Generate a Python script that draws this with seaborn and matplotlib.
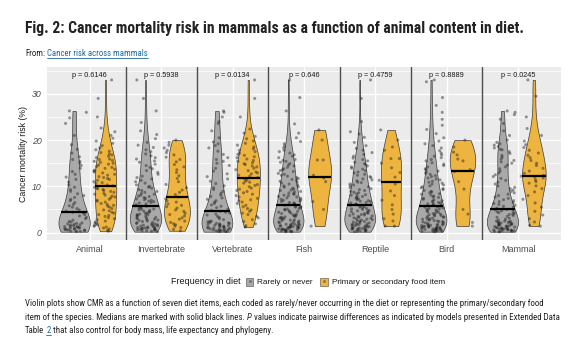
import numpy as np
import pandas as pd
import matplotlib
matplotlib.use("Agg")
import matplotlib.pyplot as plt
import seaborn as sns
from matplotlib import font_manager
from matplotlib.patches import Patch
from matplotlib.lines import Line2D
from matplotlib.collections import PolyCollection
from matplotlib.ticker import MultipleLocator
from matplotlib.transforms import IdentityTransform

# ---------------- data ----------------
items = ["Animal", "Invertebrate", "Vertebrate", "Fish", "Reptile", "Bird", "Mammal"]
freq_levels = ["Rarely or never", "Primary or secondary food item"]
p_labels = ["p = 0.6146", "p = 0.5938", "p = 0.0134", "p = 0.646",
            "p = 0.4759", "p = 0.8889", "p = 0.0245"]
y_ticks = [0, 10, 20, 30]

animal_rare = [0.2, 0.3, 0.3, 0.4, 0.5, 0.5, 0.6, 0.6, 0.7, 0.8, 0.8, 0.9, 1.0, 1.0, 1.1, 1.2, 1.3,
               1.3, 1.4, 1.5, 1.6, 1.7, 1.8, 1.9, 2.0, 2.1, 2.3, 2.4, 2.7, 3.0, 3.3, 3.6, 3.9, 4.2,
               4.4, 4.6, 4.9, 5.2, 5.5, 5.8, 6.1, 6.5, 6.9, 7.2, 7.6, 8.0, 8.4, 8.9, 9.3, 9.8, 10.3,
               10.9, 11.5, 12.0, 12.6, 13.2, 13.9, 14.5, 15.0, 15.4, 15.8, 16.4, 17.2, 18.0, 19.0,
               21.0, 23.6, 24.8, 26.0, 26.3]
animal_primary = [0.3, 0.5, 0.8, 1.0, 1.2, 1.4, 1.5, 1.7, 1.9, 2.1, 2.3, 2.5, 2.8, 3.0, 3.2, 3.5, 3.7, 3.9,
                  4.2, 4.4, 4.7, 4.9, 5.2, 5.5, 5.7, 5.9, 6.1, 6.3, 6.6, 6.8, 7.0, 7.2, 7.5, 7.7, 7.9,
                  8.1, 8.3, 8.5, 8.7, 8.9, 9.1, 9.3, 9.5, 9.6, 9.8, 10.1, 10.3, 10.6, 10.8, 11.0, 11.3,
                  11.5, 11.7, 11.9, 12.1, 12.4, 12.6, 12.9, 13.1, 13.3, 13.5, 13.7, 13.9, 14.1, 14.3,
                  14.6, 14.8, 15.0, 15.2, 15.4, 15.6, 15.8, 15.9, 16.2, 16.5, 16.8, 17.0, 17.3, 17.6,
                  17.9, 18.3, 18.8, 19.3, 19.8, 20.4, 21.0, 21.8, 22.6, 25.0, 29.0, 33.0]
invertebrate_rare = [0.2, 0.3, 0.4, 0.4, 0.5, 0.6, 0.6, 0.7, 0.8, 0.8, 0.9, 0.9, 1.0, 1.0,
                     1.1, 1.2, 1.2, 1.3, 1.4, 1.5, 1.6, 1.6, 1.7, 1.8, 1.9, 2.0,
                     2.1, 2.2, 2.4, 2.5, 2.6, 2.7, 2.8, 2.9, 3.0, 3.1, 3.2, 3.3, 3.5, 3.6, 3.7, 3.8, 3.9, 4.0,
                     4.1, 4.2, 4.4, 4.5, 4.6, 4.8, 4.9, 5.0, 5.1, 5.3, 5.4, 5.6, 5.7, 5.8, 6.0,
                     6.2, 6.4, 6.5, 6.7, 6.8, 7.0, 7.1, 7.3, 7.4, 7.6, 7.8, 7.9, 8.1, 8.3, 8.5, 8.7, 8.9,
                     9.1, 9.3, 9.6, 9.8, 10.0, 10.3, 10.7, 11.0, 11.3, 11.6, 11.9, 12.2, 12.6, 13.0, 13.4,
                     13.8, 14.1, 14.5, 14.8, 15.2, 15.5, 15.9, 16.2, 16.6, 17.0, 17.5, 17.9, 18.4, 18.9,
                     19.5, 20.3, 21.2, 22.0, 23.8, 26.3, 29.0, 33.0]
invertebrate_primary = [0.4, 0.7, 1.1, 1.4, 1.7, 1.9, 2.2, 2.5, 2.9, 3.2, 3.6, 3.9, 4.2, 4.6, 4.9, 5.3,
                        5.6, 5.9, 6.2, 6.6, 6.9, 7.3, 7.7, 8.2, 8.7, 9.2, 9.7, 10.4, 11.0, 11.7, 12.3,
                        13.0, 13.6, 14.2, 14.7, 15.3, 15.8, 16.3, 16.8, 17.3, 17.8, 18.3, 18.9, 19.5, 20.0]
vertebrate_rare = [0.2, 0.2, 0.3, 0.3, 0.4, 0.4, 0.5, 0.5, 0.6, 0.7, 0.7, 0.8, 0.8, 0.9, 1.0, 1.0,
                   1.1, 1.2, 1.2, 1.3, 1.4, 1.5, 1.5, 1.6, 1.7, 1.8, 1.9, 2.0, 2.0, 2.1, 2.2, 2.3,
                   2.4, 2.5, 2.8, 3.0, 3.3, 3.5, 3.8, 4.0, 4.2, 4.4, 4.6, 4.8, 5.1, 5.4, 5.7, 6.0,
                   6.3, 6.6, 6.9, 7.2, 7.5, 7.8, 8.1, 8.5, 8.9, 9.3, 9.7, 10.1, 10.6, 11.1, 11.6,
                   12.1, 12.7, 13.3, 13.9, 14.5, 15.0, 15.4, 15.8, 16.2, 16.9, 17.6, 18.3, 18.8,
                   19.2, 19.6, 20.5, 22.0, 23.6, 24.0, 25.0, 26.0, 26.3]
vertebrate_primary = [1.2, 1.5, 1.9, 2.4, 2.8, 3.2, 3.5, 3.9, 4.2, 4.6, 4.9, 5.2, 5.6, 5.9, 6.3, 6.6,
                      6.9, 7.1, 7.4, 7.7, 8.0, 8.3, 8.6, 8.9, 9.1, 9.4, 9.6, 9.9, 10.2, 10.4, 10.7, 10.9,
                      11.1, 11.4, 11.6, 11.9, 12.2, 12.4, 12.7, 12.9, 13.1, 13.4, 13.6, 13.9, 14.2, 14.4,
                      14.7, 14.9, 15.1, 15.4, 15.6, 15.9, 16.2, 16.4, 16.7, 16.9, 17.2, 17.5, 17.8, 18.1,
                      18.5, 18.9, 19.3, 19.8, 20.3, 20.8, 21.5, 22.4, 25.0, 29.0, 33.0]
fish_rare = [0.2, 0.2, 0.3, 0.3, 0.4, 0.4, 0.5, 0.5, 0.6, 0.6, 0.7, 0.7, 0.8, 0.8, 0.9, 1.0, 1.0,
             1.1, 1.1, 1.2, 1.2, 1.3, 1.3, 1.4, 1.5, 1.5, 1.6, 1.6, 1.7, 1.8, 1.8, 1.9, 2.0,
             2.1, 2.2, 2.3, 2.4, 2.5, 2.6, 2.7, 2.8, 2.9, 3.0, 3.1, 3.2, 3.3, 3.4, 3.5, 3.6, 3.7, 3.8,
             4.0, 4.1, 4.2, 4.4, 4.5, 4.6, 4.7, 4.9, 5.0, 5.1, 5.2, 5.4, 5.5, 5.6, 5.7, 5.9, 6.0,
             6.1, 6.3, 6.4, 6.5, 6.7, 6.8, 7.0, 7.1, 7.2, 7.4, 7.5, 7.7, 7.8, 8.0, 8.1, 8.3, 8.4,
             8.6, 8.8, 8.9, 9.1, 9.2, 9.4, 9.6, 9.8, 9.9, 10.1, 10.3, 10.5, 10.7, 10.9, 11.1, 11.3,
             11.5, 11.7, 11.9, 12.2, 12.4, 12.6, 12.8, 13.2, 13.4, 13.6, 13.8, 14.1, 14.4, 14.6,
             14.9, 15.2, 15.4, 15.6, 15.8, 16.2, 16.5, 16.8, 17.2, 17.5, 17.8, 18.3, 18.7, 19.2,
             19.7, 20.5, 21.5, 23.5, 26.3, 29.2, 33.0]
fish_primary = [1.4, 5.0, 6.7, 11.0, 11.8, 12.4, 15.7, 15.7, 20.0, 22.2]
reptile_rare = [0.2, 0.3, 0.3, 0.4, 0.5, 0.5, 0.6, 0.7, 0.7, 0.8, 0.9, 0.9, 1.0, 1.0,
                1.1, 1.2, 1.2, 1.3, 1.4, 1.5, 1.5, 1.6, 1.7, 1.8, 1.8, 1.9, 2.0,
                2.1, 2.2, 2.3, 2.4, 2.5, 2.6, 2.7, 2.8, 2.9, 3.0, 3.1, 3.2, 3.3, 3.5, 3.6, 3.7, 3.8,
                3.9, 4.0, 4.1, 4.2, 4.3, 4.5, 4.6, 4.7, 4.8, 5.0, 5.1, 5.2, 5.4, 5.5, 5.6, 5.8, 5.9,
                6.0, 6.1, 6.2, 6.4, 6.5, 6.7, 6.8, 6.9, 7.1, 7.3, 7.4, 7.6, 7.8, 7.9, 8.1, 8.2, 8.4,
                8.6, 8.7, 8.9, 9.1, 9.3, 9.5, 9.7, 9.9, 10.1, 10.3, 10.5, 10.8, 10.9, 11.2, 11.4,
                11.6, 11.9, 12.1, 12.4, 12.6, 12.9, 13.1, 13.4, 13.7, 13.9, 14.2, 14.4, 14.7, 14.9,
                15.2, 15.5, 15.8, 16.1, 16.5, 16.9, 17.3, 17.8, 18.2, 18.8, 19.5, 20.6, 21.3, 21.8,
                24.0, 29.0, 33.0]
reptile_primary = [1.4, 1.4, 2.5, 3.0, 4.0, 5.0, 6.0, 7.0, 8.0, 9.0, 10.5, 11.3, 12.0, 13.0, 14.0,
                   15.0, 16.0, 16.0, 17.8, 18.5, 20.0, 22.2]
bird_rare = [0.2, 0.2, 0.3, 0.3, 0.4, 0.4, 0.5, 0.5, 0.6, 0.6, 0.7, 0.7, 0.8, 0.8, 0.9, 0.9, 1.0, 1.0,
             1.1, 1.1, 1.2, 1.2, 1.3, 1.3, 1.4, 1.5, 1.5, 1.6, 1.6, 1.7, 1.7, 1.8, 1.9, 2.0,
             2.1, 2.2, 2.3, 2.4, 2.4, 2.5, 2.6, 2.7, 2.8, 2.9, 3.0, 3.1, 3.2, 3.3, 3.4, 3.5, 3.6,
             3.7, 3.8, 3.9, 4.0, 4.1, 4.2, 4.4, 4.5, 4.6, 4.7, 4.9, 5.0, 5.1, 5.2, 5.3, 5.5, 5.6,
             5.7, 5.9, 6.0, 6.1, 6.2, 6.4, 6.5, 6.6, 6.8, 6.9, 7.1, 7.2, 7.4, 7.6, 7.7, 7.9, 8.1,
             8.3, 8.4, 8.6, 8.8, 8.9, 9.1, 9.3, 9.5, 9.7, 9.9, 10.1, 10.3, 10.5, 10.7, 10.9, 11.1,
             11.4, 11.6, 11.8, 12.1, 12.3, 12.6, 12.8, 13.1, 13.3, 13.6, 13.8, 14.2, 14.5, 14.8,
             15.1, 15.5, 15.8, 16.2, 16.5, 16.8, 17.2, 17.7, 18.3, 18.8, 19.2, 19.8, 20.5, 21.4,
             22.3, 23.2, 24.5, 26.0, 27.5, 29.2, 32.6, 33.0]
bird_primary = [1.4, 2.2, 4.0, 5.0, 9.4, 11.0, 13.2, 13.6, 15.5, 15.9, 16.8, 17.4, 18.5, 20.0]
mammal_rare = [0.2, 0.2, 0.3, 0.3, 0.4, 0.4, 0.5, 0.5, 0.6, 0.6, 0.7, 0.7, 0.8, 0.8, 0.9, 0.9, 1.0,
               1.0, 1.1, 1.2, 1.2, 1.3, 1.4, 1.4, 1.5, 1.6, 1.6, 1.7, 1.8, 1.9, 1.9, 2.0, 2.1, 2.1,
               2.2, 2.3, 2.3, 2.4, 2.5, 2.5, 2.7, 2.9, 3.1, 3.3, 3.5, 3.7, 3.9, 4.0, 4.2, 4.3, 4.5,
               4.6, 4.7, 4.9, 5.0, 5.1, 5.3, 5.5, 5.7, 5.9, 6.1, 6.3, 6.5, 6.7, 6.9, 7.1, 7.4, 7.7,
               8.0, 8.3, 8.6, 8.9, 9.2, 9.5, 9.8, 10.1, 10.5, 10.9, 11.3, 11.7, 12.1, 12.5, 12.9,
               13.3, 13.8, 14.2, 14.6, 15.0, 15.3, 15.6, 15.9, 16.3, 16.7, 17.1, 17.5, 17.9, 18.0,
               18.3, 18.6, 18.9, 19.2, 19.5, 20.0, 21.0, 22.0, 23.6, 24.5, 25.5, 26.0, 26.3]
mammal_primary = [1.4, 1.6, 2.3, 3.0, 3.8, 4.6, 5.5, 6.4, 7.2, 8.0, 8.8, 9.5, 10.1, 10.7, 11.0, 11.4,
                  11.8, 12.0, 12.2, 12.4, 12.8, 13.3, 13.9, 14.5, 15.0, 15.6, 16.2, 16.7, 17.2, 17.8,
                  18.4, 19.0, 19.8, 21.0, 22.5, 25.0, 29.5, 33.0]

series = {
    "Animal": (animal_rare, animal_primary),
    "Invertebrate": (invertebrate_rare, invertebrate_primary),
    "Vertebrate": (vertebrate_rare, vertebrate_primary),
    "Fish": (fish_rare, fish_primary),
    "Reptile": (reptile_rare, reptile_primary),
    "Bird": (bird_rare, bird_primary),
    "Mammal": (mammal_rare, mammal_primary),
}
rows = []
for it in items:
    for lev, vals in zip(freq_levels, series[it]):
        for v in vals:
            rows.append({"item": it, "freq": lev, "cmr": v})
df = pd.DataFrame(rows)


def nrd0(kde):
    """R's default bandwidth (bw.nrd0), as used by ggplot2's geom_violin."""
    x = np.asarray(kde.dataset).ravel()
    sd = x.std(ddof=1)
    q75, q25 = np.percentile(x, [75, 25])
    lo = min(sd, (q75 - q25) / 1.34)
    if lo <= 0:
        lo = sd if sd > 0 else 1.0
    return 0.9 * lo * x.size ** -0.2 / sd


# ---------------- style ----------------
GRAY = "#A9A9A9"
ORANGE = "#EDB43F"
sns.set_theme(style="darkgrid", rc={
    "axes.facecolor": "#EBEBEB", "grid.color": "white", "figure.facecolor": "white",
})
names = {f.name for f in font_manager.fontManager.ttflist}
NARROW = next((n for n in ["Roboto Condensed", "Liberation Sans Narrow", "Archivo Narrow"]
               if n in names), "Liberation Sans")
SANS = "Liberation Sans"
plt.rcParams["font.family"] = [SANS, "DejaVu Sans"]

W, H = 580, 341
fig = plt.figure(figsize=(W / 100, H / 100), dpi=100)
ax = fig.add_axes([47 / W, 1 - 240 / H, (561 - 47) / W, (240 - 67) / H])

sns.violinplot(data=df, x="item", y="cmr", hue="freq", order=items, hue_order=freq_levels,
               palette=[GRAY, ORANGE], saturation=1, cut=0, density_norm="area",
               common_norm=True, width=0.88, inner=None, linewidth=0.5, linecolor="#3c3c3c",
               bw_method=nrd0, legend=False, ax=ax)

np.random.seed(3)
sns.stripplot(data=df, x="item", y="cmr", hue="freq", order=items, hue_order=freq_levels,
              palette=["#1e1e1e", "#1e1e1e"], dodge=True, jitter=0.32, size=2.2,
              alpha=0.45, linewidth=0, legend=False, ax=ax, zorder=3)

# median lines drawn across the violin body
for coll in list(ax.collections):
    if not isinstance(coll, PolyCollection):
        continue
    for path in coll.get_paths():
        v = path.vertices
        if len(v) < 4:
            continue
        cx = (v[:, 0].min() + v[:, 0].max()) / 2
        ci = int(round(cx))
        hi = 0 if cx < ci else 1
        m = float(np.median(series[items[ci]][hi]))
        xs = []
        for (x0, y0), (x1, y1) in zip(v[:-1], v[1:]):
            if (y0 - m) * (y1 - m) <= 0 and y0 != y1:
                xs.append(x0 + (m - y0) * (x1 - x0) / (y1 - y0))
        if xs:
            ax.plot([min(xs), max(xs)], [m, m], color="black", lw=1.6,
                    solid_capstyle="butt", zorder=5)

for i in range(len(items) - 1):
    ax.axvline(i + 0.5, color="#4d4d4d", lw=1.0, zorder=2)

for i, lab in enumerate(p_labels):
    ax.text(i, 34, lab, ha="center", va="center", fontsize=5.2, color="#1a1a1a", zorder=6)

ax.set_xlim(-0.6, len(items) - 0.4)
ax.set_ylim(-1.6, 35.8)
ax.set_yticks(y_ticks)
ax.yaxis.set_minor_locator(MultipleLocator(5))
ax.grid(which="major", color="white", lw=1.0)
ax.grid(which="minor", axis="y", color="white", lw=0.5)
ax.set_axisbelow(True)
for s in ax.spines.values():
    s.set_visible(False)
ax.tick_params(axis="both", which="major", length=2.2, width=0.6, color="#333333",
               labelcolor="#4D4D4D", pad=1.5)
ax.tick_params(which="minor", length=0)
ax.tick_params(axis="x", labelsize=6.5)
ax.tick_params(axis="y", labelsize=6.3)
for t in ax.get_yticklabels():
    t.set_style("italic")
ax.set_xlabel("")
ax.set_ylabel("Cancer mortality risk (%)", fontsize=6.3, color="#1a1a1a", labelpad=3)

# ---------------- legend ----------------
LEG_Y = 282
fig.text(171 / W, 1 - LEG_Y / H, "Frequency in diet", fontsize=6.5, color="#1a1a1a",
         ha="left", va="center")
h1 = (Patch(facecolor=GRAY, edgecolor="#4a4a4a", lw=0.4),
      Line2D([], [], marker="o", ls="", color="#222222", alpha=0.45, markersize=2, mew=0))
h2 = (Patch(facecolor=ORANGE, edgecolor="#4a4a4a", lw=0.4),
      Line2D([], [], marker="o", ls="", color="#222222", alpha=0.45, markersize=2, mew=0))
fig.legend(handles=[h1, h2], labels=freq_levels, ncol=2, loc="center left",
           bbox_to_anchor=(246 / W, 1 - LEG_Y / H), frameon=False, fontsize=5.9,
           handlelength=0.9, handleheight=1.1, handletextpad=0.5, columnspacing=0.9,
           borderpad=0, borderaxespad=0, labelcolor="#1a1a1a")

# ---------------- page text ----------------
renderer = fig.canvas.get_renderer()
LINK = "#1b6a98"
TXT = "#222222"


def width_of(s, **kw):
    t = fig.text(0, 0, s, **kw)
    w = t.get_window_extent(renderer).width
    t.remove()
    return w


def advance(s, **kw):
    """Horizontal advance of s, trailing spaces included."""
    return width_of(s + "x", **kw) - width_of("x", **kw)


def put_line(pieces, x_px, y_px, size, family, weight="normal", target=None):
    """Pieces carry their separating spaces at their end, never at their start."""
    base = dict(fontsize=size, family=family, weight=weight)
    if target is not None:
        total = width_of("".join(p[0] for p in pieces), **base)
        size = size * target / total
        base["fontsize"] = size
    x = x_px
    for txt, style, color, underline in pieces:
        t = fig.text(x / W, 1 - y_px / H, txt.rstrip(" "), style=style, color=color, ha="left",
                     va="baseline", **base)
        if underline:
            bb = t.get_window_extent(renderer)
            fig.add_artist(Line2D([bb.x0, bb.x1], [H - y_px - 1.3, H - y_px - 1.3],
                                  transform=IdentityTransform(), color=color, lw=0.6))
        x += advance(txt, style=style, **base)
    return size


put_line([("Fig. 2: Cancer mortality risk in mammals as a function of animal content in diet.",
           "normal", TXT, False)], 25, 33.3, 12, NARROW, weight="bold", target=498)
put_line([("From: ", "normal", TXT, False),
          ("Cancer risk across mammals", "normal", LINK, True)], 25, 56.3, 6.3, NARROW)

cap_size = put_line([("Violin plots show CMR as a function of seven diet items, each coded as "
                      "rarely/never occurring in the diet or representing the primary/secondary food",
                      "normal", TXT, False)], 25, 305.5, 6.5, NARROW, target=519)
put_line([("item of the species. Medians are marked with solid black lines. ", "normal", TXT, False),
          ("P ", "italic", TXT, False),
          ("values indicate pairwise differences as indicated by models presented in Extended Data",
           "normal", TXT, False)], 25, 319.5, cap_size, NARROW)
put_line([("Table ", "normal", TXT, False), ("2", "normal", LINK, True),
          (" ", "normal", TXT, False),
          ("that also control for body mass, life expectancy and phylogeny.", "normal", TXT, False)],
         25, 333.2, cap_size, NARROW)

fig.savefig("out.png", dpi=100)
